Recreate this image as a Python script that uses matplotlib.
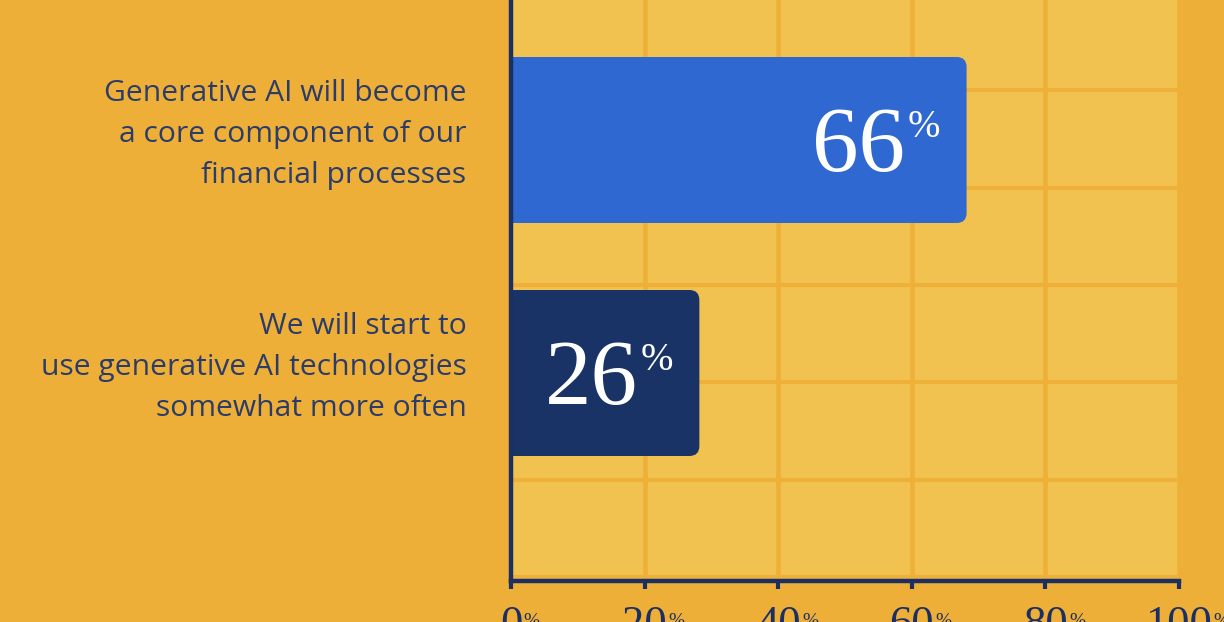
import numpy as np
import matplotlib.pyplot as plt
from matplotlib.patches import FancyBboxPatch

# data
categories = [
    "Generative AI will become\na core component of our\nfinancial processes",
    "We will start to\nuse generative AI technologies\nsomewhat more often",
]
values = [66, 26]
bar_colors = ["#2E68D0", "#1A3366"]
tick_values = [0, 20, 40, 60, 80, 100]

BG = "#EEAF38"
PANEL = "#F2C251"
GRID = "#EFB03A"
NAVY = "#1C2F63"
TEXT = "#2B3C6A"

W, H, DPI = 1224, 622, 100
fig = plt.figure(figsize=(W / DPI, H / DPI), dpi=DPI, facecolor=BG)

# axes in pixel layout: x 511..1179, y 0..581 (from top)
left, right, bottom_px = 511, 1179, 581
ax = fig.add_axes([left / W, 1 - bottom_px / H, (right - left) / W, bottom_px / H])
ax.set_facecolor(PANEL)

# y: bars at 1 (top) and 0, 233 px per unit
px_per_y = 233.0
ypos = [1, 0]
y_lo = -(bottom_px - 373) / px_per_y
y_hi = 373 / px_per_y
ax.set_xlim(0, 100)
ax.set_ylim(y_lo, y_hi)

x_per_px = 100 / (right - left)
y_per_px = 1 / px_per_y

# grid
ax.set_axisbelow(True)
for gx in tick_values[1:]:
    ax.axvline(gx, color=GRID, lw=3.4, zorder=0.5)
for gy in np.arange(-0.876, y_hi, 0.418):
    ax.axhline(gy, color=GRID, lw=3.0, zorder=0.5)

# bars with rounded right end
bar_h = 166 / px_per_y
cap = 2.2      # bar end overshoot beyond value (rendering style)
radius = 10 * x_per_px
for v, y, c in zip(values, ypos, bar_colors):
    p = FancyBboxPatch((-3, y - bar_h / 2), v + cap + 3, bar_h,
                       boxstyle=f"round,pad=0,rounding_size={radius}",
                       mutation_aspect=y_per_px / x_per_px,
                       facecolor=c, edgecolor="none", zorder=2)
    ax.add_patch(p)

    fs, fs_pct = 67, 28
    pct = ax.annotate("%", xy=(v + cap, y), xycoords="data",
                      xytext=(-19, 0.338 * fs - 0.72 * fs_pct), textcoords="offset points",
                      ha="right", va="baseline", color="white", fontsize=fs_pct,
                      family="Liberation Serif", zorder=3)
    ax.annotate(str(v), xy=(0, y), xycoords=(pct, "data"),
                xytext=(-2, -0.338 * fs), textcoords="offset points",
                ha="right", va="baseline", color="white", fontsize=fs,
                family="Liberation Serif", zorder=3)

# category labels
for lab, y in zip(categories, ypos):
    ax.annotate(lab, xy=(0, y), xycoords="data", xytext=(-32, 4),
                textcoords="offset points", ha="right", va="center",
                multialignment="right", fontsize=21.6, color=TEXT,
                family="Open Sans", linespacing=1.54, annotation_clip=False)

# spines and ticks
for s in ["top", "right"]:
    ax.spines[s].set_visible(False)
for s in ["left", "bottom"]:
    ax.spines[s].set_color(NAVY)
    ax.spines[s].set_linewidth(3.2)
    ax.spines[s].set_capstyle("projecting")
ax.set_yticks([])
ax.set_xticks(tick_values)
ax.set_xticklabels([])
ax.tick_params(axis="x", direction="out", length=6, width=3, color=NAVY)

# tick labels with small superscript %
for t in tick_values:
    d = ax.annotate(str(t), xy=(t, 0), xycoords=("data", "axes fraction"),
                    xytext=(0, -17), textcoords="offset points",
                    ha="center", va="top", fontsize=32, color=NAVY,
                    family="Liberation Serif", annotation_clip=False)
    ax.annotate("%", xy=(1, 1), xycoords=d, xytext=(1, -6),
                textcoords="offset points", ha="left", va="top",
                fontsize=14, color=NAVY, family="Liberation Serif",
                annotation_clip=False)

fig.savefig("out.png", dpi=DPI, facecolor=BG)
